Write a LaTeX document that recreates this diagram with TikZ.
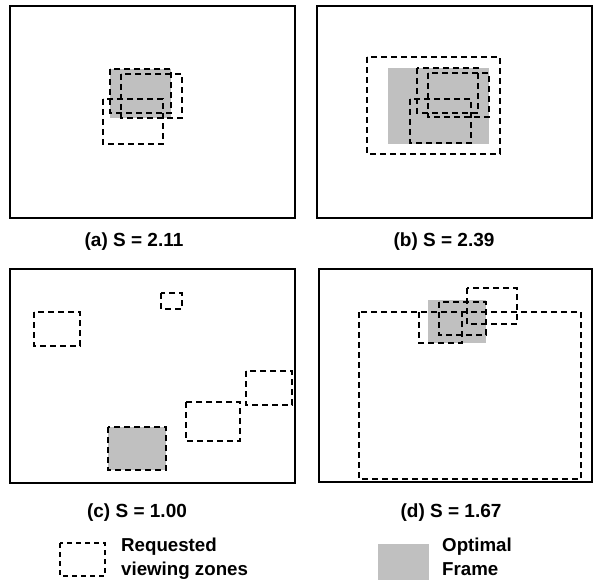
\documentclass[tikz,border=0pt]{standalone}
\usepackage{fontspec}
\setmainfont{Liberation Sans}
\definecolor{optgray}{RGB}{192,192,192}
\tikzset{
  frame/.style={draw=black, line width=1.3pt},
  zone/.style={draw=black, line width=1.3pt, dash pattern=on 6pt off 4pt},
  optimal/.style={fill=optgray},
  caption/.style={font=\bfseries\fontsize{19}{21}\selectfont, inner sep=0pt, anchor=base},
  legendtext/.style={font=\bfseries\fontsize{18.7}{21}\selectfont, inner sep=0pt, anchor=base west}
}
\begin{document}
\begin{tikzpicture}[x=1pt,y=-1pt]
    \useasboundingbox (0,0) rectangle (593,585);

    % Panel (a)
    \draw[frame] (10,6) rectangle (295,218);
    \fill[optimal] (110,69) rectangle (171,118);
    \draw[zone] (110,69) rectangle (171,113);
    \draw[zone] (121,74) rectangle (182,118);
    \draw[zone] (103,99) rectangle (163,144);
    \node[caption] (capA) at (134,246) {(a) S = 2.11};

    % Panel (b)
    \draw[frame] (317,6) rectangle (592,218);
    \fill[optimal] (388,68) rectangle (489,144);
    \draw[zone] (367,57) rectangle (500,154);
    \draw[zone] (417,68) rectangle (478,113);
    \draw[zone] (428,73) rectangle (489,117);
    \draw[zone] (410,99) rectangle (471,143);
    \node[caption] (capB) at (444,246) {(b) S = 2.39};

    % Panel (c)
    \draw[frame] (10,269) rectangle (295,483);
    \draw[zone] (161,293) rectangle (182,309);
    \draw[zone] (34,312) rectangle (80,346);
    \draw[zone] (246,371) rectangle (292,405);
    \draw[zone] (186,402) rectangle (240,441);
    \fill[optimal] (108,427) rectangle (166,470);
    \draw[zone] (108,427) rectangle (166,470);
    \node[caption] (capC) at (137,517) {(c) S = 1.00};

    % Panel (d)
    \draw[frame] (319,269) rectangle (592,482);
    \fill[optimal] (428,300) rectangle (486,343);
    \draw[zone] (359,312) rectangle (581,479);
    \draw[zone] (419,312) rectangle (462,343);
    \draw[zone] (439,302) rectangle (486,335);
    \draw[zone] (467,288) rectangle (517,324);
    \node[caption] (capD) at (451,517) {(d) S = 1.67};

    % Legend
    \draw[zone, dash pattern=on 5pt off 4pt] (60,543) rectangle (105,576);
    \node[legendtext] (legZoneA) at (121,551) {Requested};
    \node[legendtext] (legZoneB) at (121,575) {viewing zones};
    \fill[optimal] (378,544) rectangle (429,580);
    \node[legendtext] (legOptA) at (442,551) {Optimal};
    \node[legendtext] (legOptB) at (442,575) {Frame};
\end{tikzpicture}
\end{document}
